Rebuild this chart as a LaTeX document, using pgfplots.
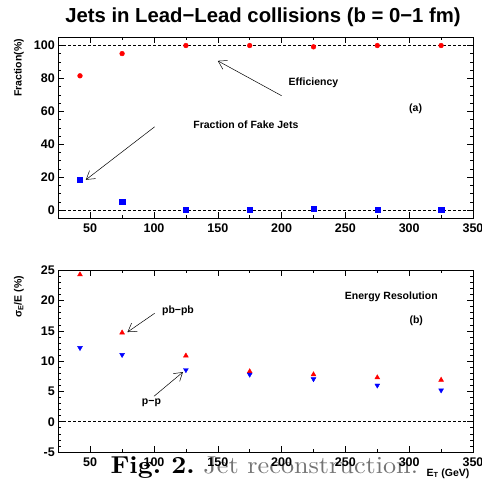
\documentclass[border=0pt]{standalone}
\usepackage{fontspec}
\usepackage{pgfplots}
\pgfplotsset{compat=1.18}
\usetikzlibrary{arrows.meta}
\newfontfamily\cf{Liberation Sans}
\definecolor{capgray}{gray}{0.45}
\tikzset{
  anno/.style={font=\cf\bfseries\fontsize{10.5}{12}\selectfont},
  arr/.style={-{Straight Barb[length=8pt,width=10pt]}, line width=0.5pt},
}
\begin{document}
\begin{tikzpicture}
\useasboundingbox (0pt,0pt) rectangle (482pt,-485pt);
\pgfplotsset{myax/.style={
  scale only axis, width=414.7pt, height=181pt,
  xmin=25, xmax=350, xtick={50,100,...,350}, minor x tick num=1,
  tick align=inside, major tick length=6pt, minor tick length=3pt,
  axis line style={line width=0.8pt},
  every tick/.style={black, line width=0.6pt},
  ticklabel style={font=\cf\bfseries\fontsize{12.5}{14}\selectfont},
  xticklabel style={yshift=-2pt},
  /pgf/number format/assume math mode=true,
  scaled ticks=false, clip=false, anchor=north west,
}}
% caption (behind the axes)
\node[anchor=base west, inner sep=0pt, xscale=2.62, yscale=2.45, font=\fontsize{10}{12}\selectfont] at (110pt,-473pt)
  {\textbf{Fig.~2.}\ \textcolor{capgray}{Jet reconstruction.}};
% title
\node[font=\cf\bfseries\fontsize{20.3}{23}\selectfont] at (263pt,-17pt) {Jets in Lead\textminus Lead collisions (b = 0\textminus 1 fm)};
% y labels
\node[rotate=90, font=\cf\bfseries\fontsize{10.5}{12}\selectfont] at (19pt,-68pt) {Fraction(\%)};
\node[rotate=90, font=\cf\bfseries\fontsize{10.5}{12}\selectfont] at (19pt,-297pt) {σ\textsubscript{E}/E (\%)};
\node[anchor=base east, font=\cf\bfseries\fontsize{10.5}{12}\selectfont] at (473pt,-476pt) {E\textsubscript{T} (GeV)};

\begin{axis}[myax, at={(58.3pt,-37.3pt)}, ymin=-5, ymax=105, ytick={0,20,...,100}, minor y tick num=3]
\draw[densely dashed, line width=0.6pt] (axis cs:25,100) -- (axis cs:350,100);
\draw[densely dashed, line width=0.6pt] (axis cs:25,0) -- (axis cs:350,0);
\addplot[only marks, mark=*, mark size=2.4pt, red, mark options={draw=red, fill=red}] coordinates {
(42,81.6) (75,95.1) (125,100) (175,100) (225,99.2) (275,100) (325,100)};
\addplot[only marks, mark=square*, mark size=2.6pt, blue, mark options={draw=blue, fill=blue}] coordinates {
(42,18.4) (75,5.1) (125,0) (175,0) (225,1.0) (275,0) (325,0)};
\node[anno] at (axis cs:225,77.5) {Efficiency};
\draw[arr] (axis cs:200,69.5) -- (axis cs:150,90.7);
\node[anno] at (axis cs:172,52) {Fraction of Fake Jets};
\draw[arr] (axis cs:100.5,50.6) -- (axis cs:46.6,18.4);
\node[anno] at (axis cs:305,61.5) {(a)};
\end{axis}

\begin{axis}[myax, at={(58.3pt,-270.3pt)}, height=181.7pt, ymin=-5, ymax=25, ytick={-5,0,...,25}, minor y tick num=4]
\draw[densely dashed, line width=0.6pt] (axis cs:25,0) -- (axis cs:350,0);
\addplot[only marks, mark=triangle*, mark size=2.8pt, red, mark options={draw=red, fill=red}] coordinates {
(42,24.3) (75,14.7) (125,10.9) (175,8.3) (225,7.8) (275,7.3) (325,6.9)};
\addplot[only marks, mark=triangle*, mark size=2.8pt, blue, mark options={draw=blue, fill=blue, rotate=180}] coordinates {
(42,12.2) (75,11.05) (125,8.55) (175,7.8) (225,7.05) (275,6.0) (325,5.2)};
\node[anno] at (axis cs:286,20.7) {Energy Resolution};
\node[anno] at (axis cs:305.5,16.6) {(b)};
\node[anno] at (axis cs:118.8,18.3) {pb\textminus pb};
\draw[arr] (axis cs:100.5,17.9) -- (axis cs:79.2,14.8);
\node[anno] at (axis cs:98,3.05) {p\textminus p};
\draw[arr] (axis cs:100,4.2) -- (axis cs:122.7,8.2);
\end{axis}
\end{tikzpicture}
\end{document}
